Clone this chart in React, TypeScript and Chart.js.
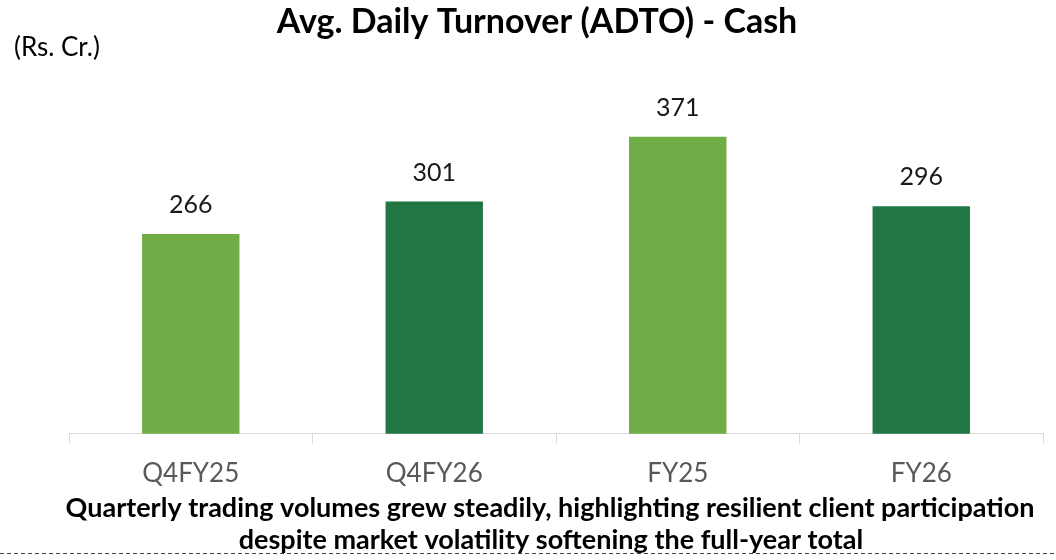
import React, { useEffect, useRef } from "react";
import { Chart, registerables } from "chart.js";

Chart.register(...registerables);

const categories = ["Q4FY25", "Q4FY26", "FY25", "FY26"];
const values = [266, 301, 371, 296];
const barColors = ["#70AD47", "#217643", "#70AD47", "#217643"];
const titleText = "Avg. Daily Turnover (ADTO) - Cash";
const unitText = "(Rs. Cr.)";
const footerLines = [
  "Quarterly trading volumes grew steadily, highlighting resilient client participation",
  "despite market volatility softening the full-year total",
];

const FONT = "Lato, 'Open Sans', sans-serif";

const overlayPlugin = {
  id: "overlay",
  afterDraw(chart: any) {
    const ctx = chart.ctx as CanvasRenderingContext2D;
    ctx.save();
    // title
    ctx.fillStyle = "#000000";
    ctx.font = `bold 34px ${FONT}`;
    ctx.textAlign = "center";
    ctx.textBaseline = "middle";
    ctx.fillText(titleText, 537, 22);
    // unit
    ctx.font = `26px ${FONT}`;
    ctx.textAlign = "left";
    ctx.fillText(unitText, 14, 48);
    // value labels
    ctx.font = `25px ${FONT}`;
    ctx.textAlign = "center";
    ctx.fillStyle = "#1a1a1a";
    const meta = chart.getDatasetMeta(0);
    meta.data.forEach((el: any, i: number) => {
      ctx.fillText(String(values[i]), el.x, el.y - 29);
    });
    // footer
    ctx.fillStyle = "#000000";
    ctx.font = `bold 27px ${FONT}`;
    ctx.fillText(footerLines[0], 550, 508);
    ctx.fillText(footerLines[1], 551, 540);
    // dashed line
    ctx.strokeStyle = "#404040";
    ctx.lineWidth = 1;
    ctx.setLineDash([4, 3]);
    ctx.beginPath();
    ctx.moveTo(0, 553.5);
    ctx.lineTo(1056, 553.5);
    ctx.stroke();
    ctx.restore();
  },
};

export default function App() {
  const ref = useRef<HTMLCanvasElement | null>(null);
  useEffect(() => {
    if (!ref.current) return;
    const chart = new Chart(ref.current, {
      type: "bar",
      data: {
        labels: categories,
        datasets: [
          {
            data: values,
            backgroundColor: barColors,
            borderWidth: 0,
            barPercentage: 0.4,
            categoryPercentage: 1,
          },
        ],
      },
      options: {
        responsive: false,
        animation: false,
        layout: { padding: { left: 69, right: 13, top: 110, bottom: 57 } },
        plugins: {
          legend: { display: false },
          title: { display: false },
          tooltip: { enabled: false },
        },
        scales: {
          x: {
            grid: {
              display: true,
              drawOnChartArea: false,
              drawTicks: true,
              tickLength: 10,
              color: "#D9D9D9",
              offset: true,
            },
            border: { display: true, color: "#D9D9D9", width: 1 },
            ticks: {
              color: "#595959",
              font: { family: FONT, size: 26, lineHeight: 1.2 },
              padding: 14,
              autoSkip: false,
              maxRotation: 0,
            },
          },
          y: {
            display: false,
            min: 50,
            max: 400,
          },
        },
      },
      plugins: [overlayPlugin],
    });
    return () => chart.destroy();
  }, []);
  return (
    <div style={{ position: "fixed", left: 0, top: 0, width: 1056, height: 560, background: "#fff" }}>
      <canvas ref={ref} width={1056} height={560} style={{ width: 1056, height: 560, display: "block" }} />
    </div>
  );
}
